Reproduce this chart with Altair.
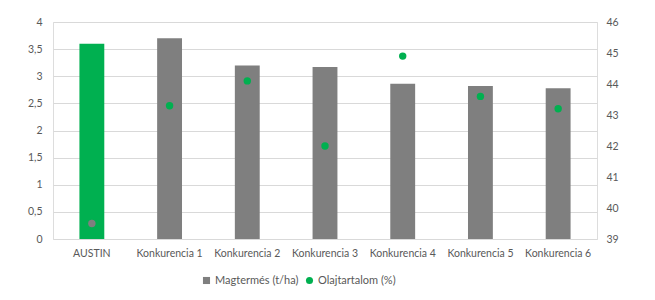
import altair as alt
import pandas as pd

categories = ["AUSTIN", "Konkurencia 1", "Konkurencia 2", "Konkurencia 3",
              "Konkurencia 4", "Konkurencia 5", "Konkurencia 6"]
yield_t_ha = [3.6, 3.7, 3.2, 3.17, 2.86, 2.82, 2.78]
oil_pct = [39.5, 43.3, 44.1, 42.0, 44.9, 43.6, 43.2]

S1 = "Magtermés (t/ha)"
S2 = "Olajtartalom (%)"
GREEN = "#00b050"
GRAY = "#7f7f7f"
FONT = "Lato"
LBL = "#595959"

bars = pd.DataFrame({
    "cat": categories,
    "val": yield_t_ha,
    "key": [S2 if c == "AUSTIN" else S1 for c in categories],
})
pts = pd.DataFrame({
    "cat": categories,
    "val": oil_pct,
    "key": [S1 if c == "AUSTIN" else S2 for c in categories],
})


def legend(value, sym, lx):
    return alt.Legend(
        title=None, orient="none", direction="horizontal", values=[value],
        legendX=lx, legendY=253, symbolType=sym, symbolSize=50,
        labelFontSize=11, labelFont=FONT, labelColor=LBL,
        symbolStrokeWidth=0, padding=0, labelOffset=3,
    )


x = alt.X("cat:N", sort=categories, title=None,
          scale=alt.Scale(paddingInner=0.68, paddingOuter=0.34),
          axis=alt.Axis(labelAngle=0, ticks=False, domain=False, labelPadding=9,
                        labelFontSize=10.5, labelColor=LBL, labelFont=FONT))

bar_layer = alt.Chart(bars).mark_bar().encode(
    x=x,
    y=alt.Y("val:Q", title=None,
            scale=alt.Scale(domain=[0, 4], nice=False),
            axis=alt.Axis(values=[0, 0.5, 1, 1.5, 2, 2.5, 3, 3.5, 4],
                          labelExpr="replace(toString(datum.value), '.', ',')",
                          ticks=False, domain=False, grid=True, gridColor="#d9d9d9",
                          labelPadding=11, labelFontSize=10.5, labelColor=LBL,
                          labelFont=FONT)),
    color=alt.Color("key:N", scale=alt.Scale(domain=[S1, S2], range=[GRAY, GREEN]),
                    legend=legend(S1, "square", 148)),
)

point_layer = alt.Chart(pts).mark_point(filled=True, size=55, opacity=1, shape="circle").encode(
    x=x,
    y=alt.Y("val:Q", title=None,
            scale=alt.Scale(domain=[39, 46], nice=False, zero=False),
            axis=alt.Axis(orient="right", values=[39, 40, 41, 42, 43, 44, 45, 46],
                          ticks=False, domain=False, grid=False, labelPadding=9,
                          labelFontSize=10.5, labelColor=LBL, labelFont=FONT)),
    color=alt.Color("key:N", scale=alt.Scale(domain=[S2, S1], range=[GREEN, GRAY]),
                    legend=legend(S2, "circle", 251)),
)

chart = alt.layer(bar_layer, point_layer).resolve_scale(
    y="independent", color="independent"
).properties(
    width=544, height=217,
    autosize=alt.AutoSizeParams(type="none"),
    padding={"left": 45, "top": 14, "right": 50, "bottom": 53},
).configure_view(stroke=None).configure(background="white")

chart.save("out.html", embed_options={"renderer": "svg", "actions": False})
